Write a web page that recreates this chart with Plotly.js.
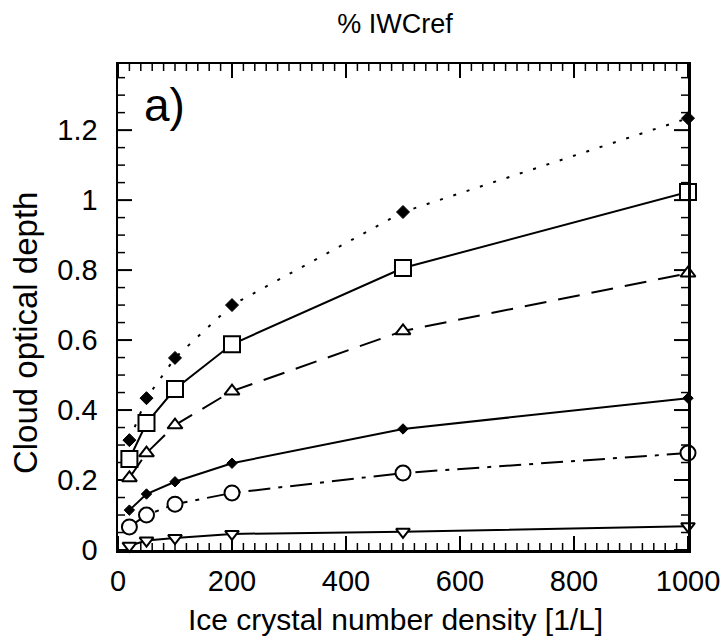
<!DOCTYPE html>
<html>
<head>
<meta charset="utf-8">
<script src="https://cdn.plot.ly/plotly-3.0.1.min.js"></script>
<style>html,body{margin:0;padding:0;background:#fff;}#chart{width:721px;height:640px;}</style>
</head>
<body>
<div id="chart"></div>
<script>
const density = [20, 50, 100, 200, 500, 1000];
const seriesDiamondDotted = [0.314, 0.434, 0.549, 0.700, 0.966, 1.234];
const seriesSquareSolid = [0.260, 0.363, 0.460, 0.588, 0.806, 1.023];
const seriesTriangleDashed = [0.206, 0.277, 0.357, 0.454, 0.626, 0.791];
const seriesDiamondSolid = [0.114, 0.160, 0.195, 0.248, 0.346, 0.434];
const seriesCircleDashDot = [0.066, 0.100, 0.131, 0.163, 0.220, 0.277];
const seriesTriDownSolid = [0.012, 0.027, 0.034, 0.046, 0.052, 0.068];
const xTicks = [0, 200, 400, 600, 800, 1000];
const yTicks = [0, 0.2, 0.4, 0.6, 0.8, 1, 1.2];
const yTickLabels = ['0', '0.2', '0.4', '0.6', '0.8', '1', '1.2'];
const xMinorStep = 20;
const yMinorStep = 0.05;
const xMax = 1000;
const yMax = 1.389;

function tr(y, sym, size, dash, filled, lw) {
  return {
    x: density, y: y, type: 'scatter', mode: 'lines+markers', cliponaxis: false,
    line: {color: '#000', width: 2, dash: dash},
    marker: {symbol: sym, size: size, color: filled ? '#000' : '#fff',
             line: {color: '#000', width: lw}}
  };
}

// tick marks as clipped line markers on the frame (only the inner half shows)
const xMinor = [], yMinor = [];
for (let i = 1; i * xMinorStep < xMax; i++) { const v = i * xMinorStep; if (!xTicks.includes(v)) xMinor.push(v); }
for (let i = 1; i * yMinorStep < yMax; i++) { const v = +(i * yMinorStep).toFixed(2); if (!yTicks.includes(v)) yMinor.push(v); }
function tickTrace(xs, ys, sym, size, w) {
  return {x: xs, y: ys, type: 'scatter', mode: 'markers', cliponaxis: true, hoverinfo: 'skip',
          marker: {symbol: sym, size: size, color: '#000', line: {color: '#000', width: w}}};
}
function xTickTrace(vals, size, w) {
  return tickTrace(vals.concat(vals), vals.map(() => 0).concat(vals.map(() => yMax)), 'line-ns-open', size, w);
}
function yTickTrace(vals, size, w) {
  return tickTrace(vals.map(() => 0).concat(vals.map(() => xMax)), vals.concat(vals), 'line-ew-open', size, w);
}

const data = [
  xTickTrace(xMinor, 10, 1.5),
  xTickTrace(xTicks, 20, 2),
  yTickTrace(yMinor, 10, 1.5),
  yTickTrace(yTicks, 20, 2),
  tr(seriesDiamondDotted, 'diamond', 10, '3px,11px', true, 1),
  tr(seriesSquareSolid, 'square', 16, 'solid', false, 2),
  tr(seriesTriangleDashed, 'triangle-up', 13, '22px,12px', false, 2),
  tr(seriesDiamondSolid, 'diamond', 8, 'solid', true, 1),
  tr(seriesCircleDashDot, 'circle', 15, '22px,8px,4px,8px', false, 2),
  tr(seriesTriDownSolid, 'triangle-down', 12, 'solid', false, 2)
];

const fam = 'Liberation Sans, Arial, sans-serif';
const layout = {
  width: 721, height: 640,
  margin: {l: 118, r: 33, t: 64, b: 90},
  paper_bgcolor: '#fff', plot_bgcolor: '#fff',
  showlegend: false,
  font: {family: fam, color: '#000'},
  title: {text: '% IWCref', font: {family: fam, size: 27, color: '#000'},
          x: 0.548, xanchor: 'center', y: 0.9625, yanchor: 'middle'},
  xaxis: {
    range: [0, xMax], tickmode: 'array', tickvals: xTicks, ticktext: xTicks.map(String),
    ticks: '', showline: true, linecolor: '#000', linewidth: 2.5, mirror: true,
    showgrid: false, zeroline: false, ticklabelstandoff: 4, ticklabeloverflow: 'allow',
    tickfont: {family: fam, size: 29, color: '#000'}
  },
  yaxis: {
    range: [0, yMax], tickmode: 'array', tickvals: yTicks, ticktext: yTickLabels,
    ticks: '', showline: true, linecolor: '#000', linewidth: 2.5, mirror: true,
    showgrid: false, zeroline: false, ticklabelstandoff: 12,
    tickfont: {family: fam, size: 29, color: '#000'}
  },
  annotations: [
    {text: 'a)', xref: 'paper', yref: 'paper', x: 0.042, y: 0.916, xanchor: 'left', yanchor: 'middle',
     showarrow: false, font: {family: fam, size: 46, color: '#000'}},
    {text: 'Ice crystal number density [1/L]', xref: 'paper', yref: 'paper', x: 0.486, y: -0.142,
     xanchor: 'center', yanchor: 'middle', showarrow: false, font: {family: fam, size: 30, color: '#000'}},
    {text: 'Cloud optical depth', xref: 'paper', yref: 'paper', x: -0.163, y: 0.4465, textangle: -90,
     xanchor: 'center', yanchor: 'middle', showarrow: false, font: {family: fam, size: 33, color: '#000'}}
  ]
};
Plotly.newPlot('chart', data, layout, {staticPlot: true});
</script>
</body>
</html>
